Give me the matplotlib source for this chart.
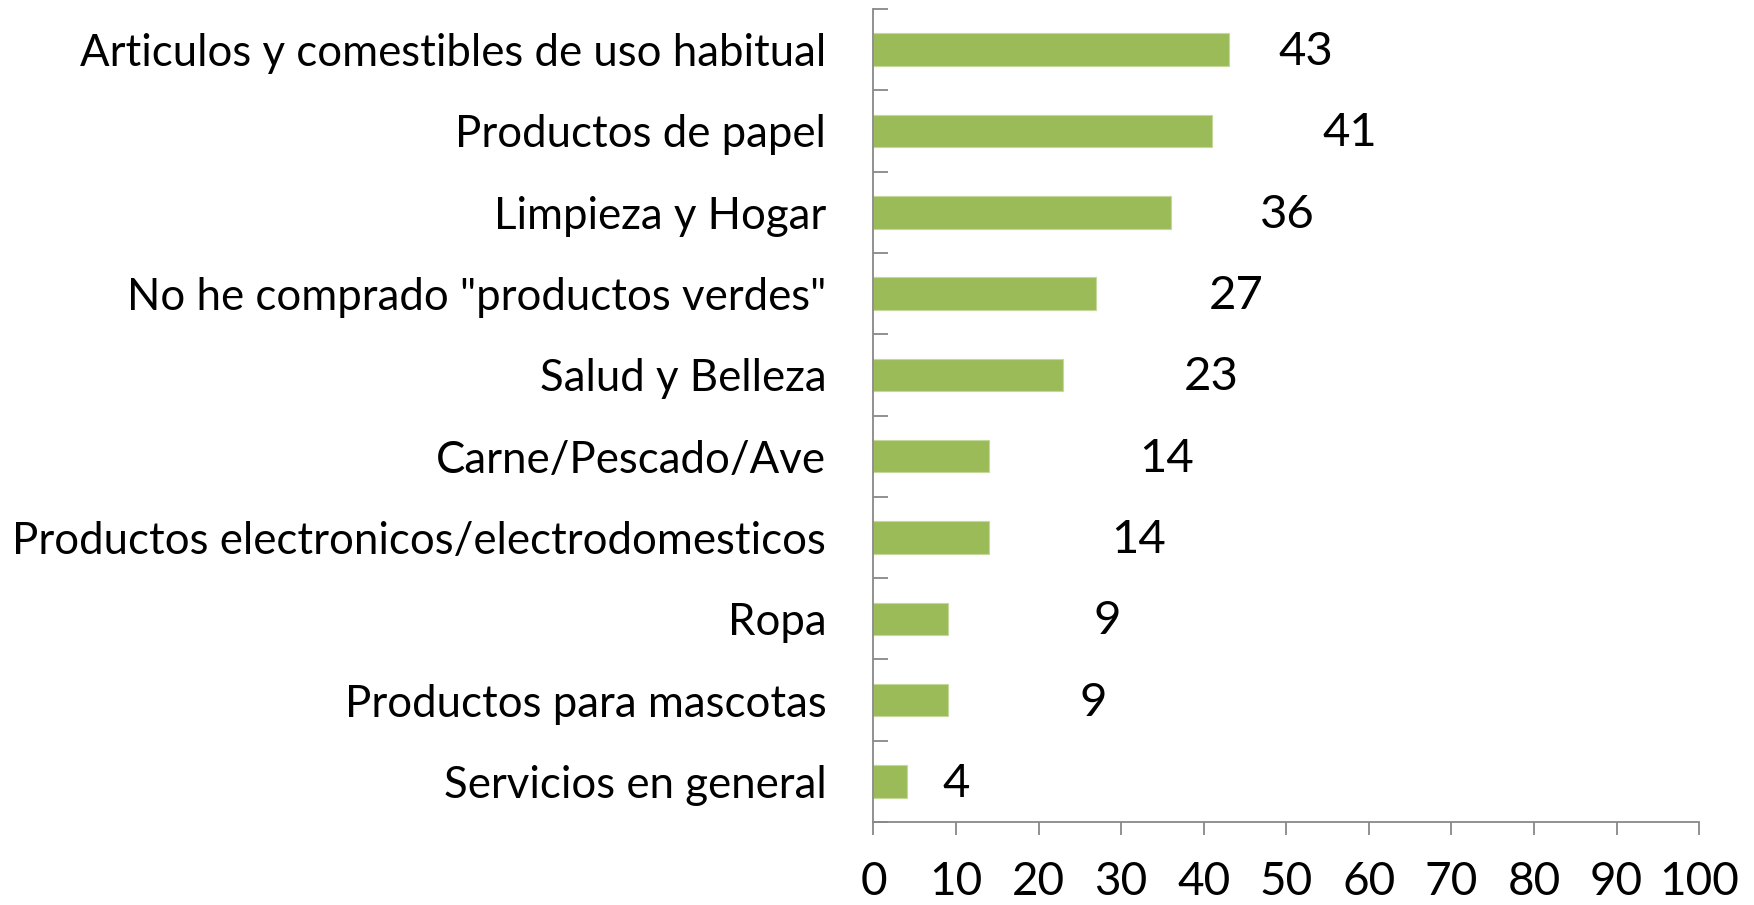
import matplotlib
matplotlib.use("Agg")
import matplotlib.pyplot as plt
import numpy as np

categories = [
    "Articulos y comestibles de uso habitual",
    "Productos de papel",
    "Limpieza y Hogar",
    'No he comprado "productos verdes"',
    "Salud y Belleza",
    "Carne/Pescado/Ave",
    "Productos electronicos/electrodomesticos",
    "Ropa",
    "Productos para mascotas",
    "Servicios en general",
]
values = [43, 41, 36, 27, 23, 14, 14, 9, 9, 4]
label_x = [52.4, 57.7, 50.1, 43.9, 40.9, 35.5, 32.1, 28.3, 26.6, 10.0]
x_ticks = [0, 10, 20, 30, 40, 50, 60, 70, 80, 90, 100]

plt.rcParams['font.family'] = ['Lato', 'DejaVu Sans']
FS = 33

fig = plt.figure(figsize=(17.54, 9.05), dpi=100)
ax = fig.add_axes([0.498, 0.0917, 0.9687 - 0.498, 0.990 - 0.0917])

pos = np.arange(len(categories))
ax.barh(pos, values, height=0.4, color="#9BBB59", edgecolor="#C4D89A", linewidth=0.8, zorder=2)

for p, v, lx in zip(pos, values, label_x):
    ax.text(lx, p + 0.03, str(v), ha="center", va="center", fontsize=FS + 1, color="black")

ax.set_xlim(0, 100)
ax.set_ylim(len(categories) - 0.5, -0.5)
ax.set_xticks(x_ticks)
ax.set_xticklabels([str(t) for t in x_ticks], fontsize=FS)
ax.set_yticks(pos)
ax.set_yticklabels(categories, fontsize=31.5)
ax.set_yticks(np.arange(-0.5, len(categories), 1.0), minor=True)

ax.tick_params(axis="y", which="major", length=0, pad=34)
ax.tick_params(axis="y", which="minor", length=11, width=1.3, color="#888888", direction="in")
ax.tick_params(axis="x", which="major", length=9, width=1.3, color="#888888", direction="out", pad=19)

for s in ["top", "right"]:
    ax.spines[s].set_visible(False)
for s in ["left", "bottom"]:
    ax.spines[s].set_color("#888888")
    ax.spines[s].set_linewidth(1.3)

fig.savefig("out.png", dpi=100)
